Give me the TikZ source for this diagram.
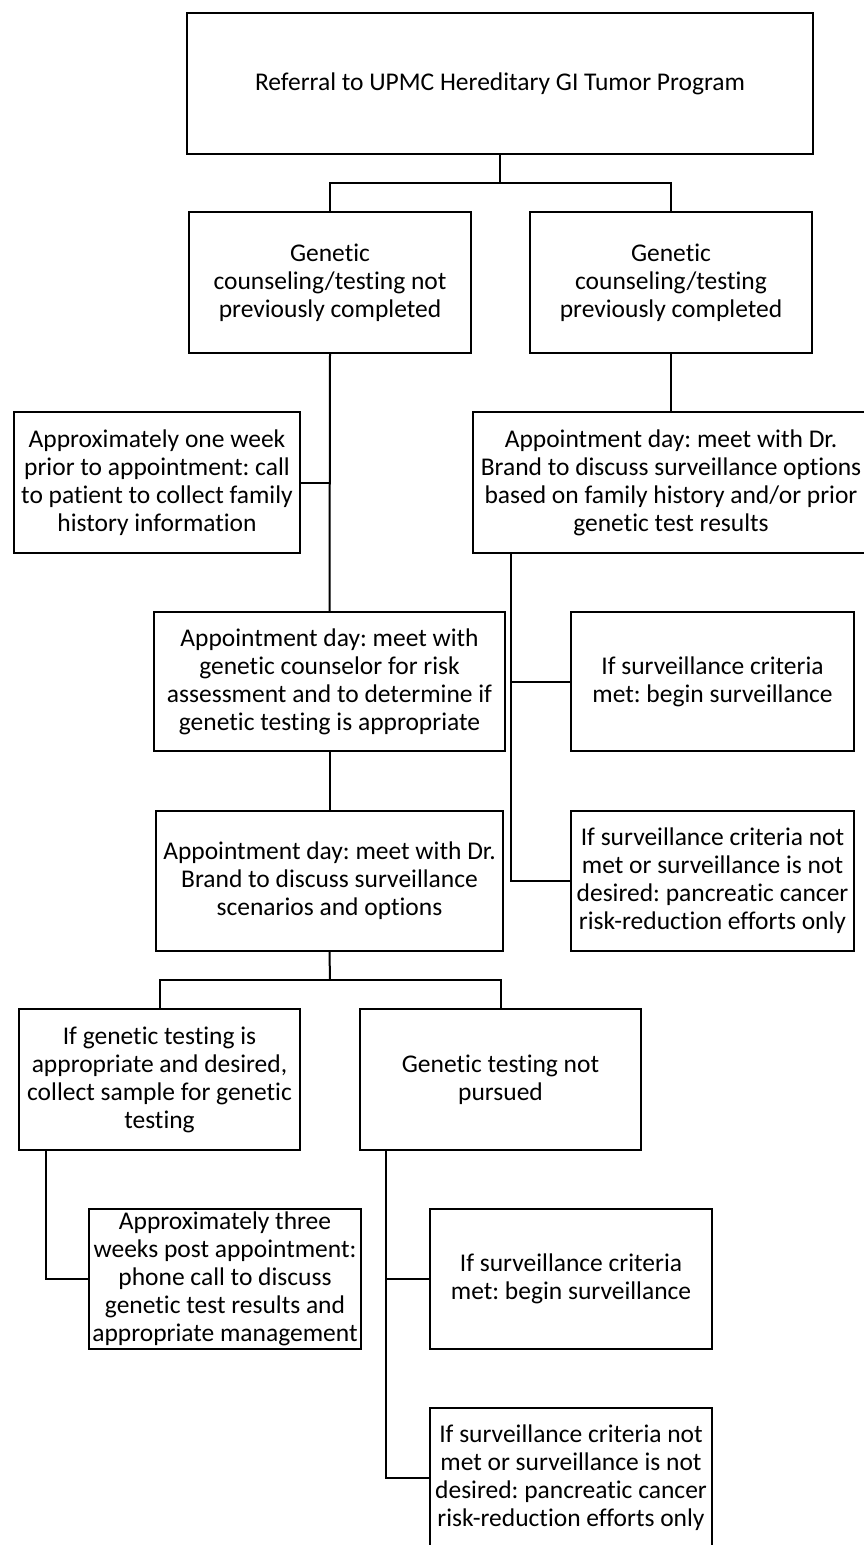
\documentclass[tikz,border=0pt]{standalone}
\usepackage{fontspec}
\setmainfont{Carlito}[Ligatures=NoCommon]
\frenchspacing
\begin{document}
\begin{tikzpicture}[x=1pt,y=-1pt,
  box/.style={draw=black,line width=2pt,rectangle,inner sep=0pt,align=center,
    font=\fontsize{25.5}{28}\selectfont\frenchspacing},
  conn/.style={draw=black,line width=2pt}]
\useasboundingbox (0,0) rectangle (864,1545);
\fill[white] (0,0) rectangle (864,1545);
\node[box,minimum width=626pt,minimum height=141pt] (top) at (500,83.5) {Referral to UPMC Hereditary GI Tumor Program};
\node[box,minimum width=282pt,minimum height=141pt] (L1) at (330,282.5) {Genetic\\counseling/testing not\\previously completed};
\node[box,minimum width=282pt,minimum height=141pt] (R1) at (671,282.5) {Genetic\\counseling/testing\\previously completed};
\node[box,minimum width=286pt,minimum height=141pt] (L2) at (157,482.5) {Approximately one week\\prior to appointment: call\\to patient to collect family\\history information};
\node[box,minimum width=396pt,minimum height=141pt] (R2) at (671,482.5) {Appointment day: meet with Dr.\\Brand to discuss surveillance options\\based on family history and/or prior\\genetic test results};
\node[box,minimum width=351pt,minimum height=139pt] (L3) at (329.5,681.5) {Appointment day: meet with\\genetic counselor for risk\\assessment and to determine if\\genetic testing is appropriate};
\node[box,minimum width=283pt,minimum height=139pt] (R3) at (712.5,681.5) {If surveillance criteria\\met: begin surveillance};
\node[box,minimum width=347pt,minimum height=140pt] (L4) at (329.5,881) {Appointment day: meet with Dr.\\Brand to discuss surveillance\\scenarios and options};
\node[box,minimum width=283pt,minimum height=140pt] (R4) at (712.5,881) {If surveillance criteria not\\met or surveillance is not\\desired: pancreatic cancer\\risk-reduction efforts only};
\node[box,minimum width=281pt,minimum height=141pt] (L5) at (159.5,1079.5) {If genetic testing is\\appropriate and desired,\\collect sample for genetic\\testing};
\node[box,minimum width=281pt,minimum height=141pt] (L6) at (500.5,1079.5) {Genetic testing not\\pursued};
\node[box,minimum width=272pt,minimum height=140pt] (L7) at (225,1279) {Approximately three\\weeks post appointment:\\phone call to discuss\\genetic test results and\\appropriate management};
\node[box,minimum width=282pt,minimum height=140pt] (L8) at (571,1279) {If surveillance criteria\\met: begin surveillance};
\node[box,minimum width=282pt,minimum height=140pt] (L9) at (571,1478) {If surveillance criteria not\\met or surveillance is not\\desired: pancreatic cancer\\risk-reduction efforts only};
% connectors
\coordinate (j1) at (500,183);
\draw[conn] (top.south) -- (j1);
\draw[conn] (L1.north) |- (j1) -| (R1.north);
\draw[conn] (L1.south) -- (L3.north);
\draw[conn] (L2.east) -- (L2.east -| L1.south);
\draw[conn] (R1.south) -- (R2.north);
\coordinate (r2b) at ([xshift=39pt]R2.south west);
\draw[conn] (r2b) |- (R4.west);
\draw[conn] (R3.west) -- (R3.west -| r2b);
\draw[conn] (L3.south) -- (L4.north);
\coordinate (j2) at (330,980);
\draw[conn] (L4.south) -- (j2);
\draw[conn] (L5.north) |- (j2) -| (L6.north);
\coordinate (l5b) at ([xshift=28pt]L5.south west);
\draw[conn] (l5b) |- (L7.west);
\coordinate (l6b) at ([xshift=27pt]L6.south west);
\draw[conn] (l6b) |- (L9.west);
\draw[conn] (L8.west) -- (L8.west -| l6b);
\end{tikzpicture}
\end{document}
